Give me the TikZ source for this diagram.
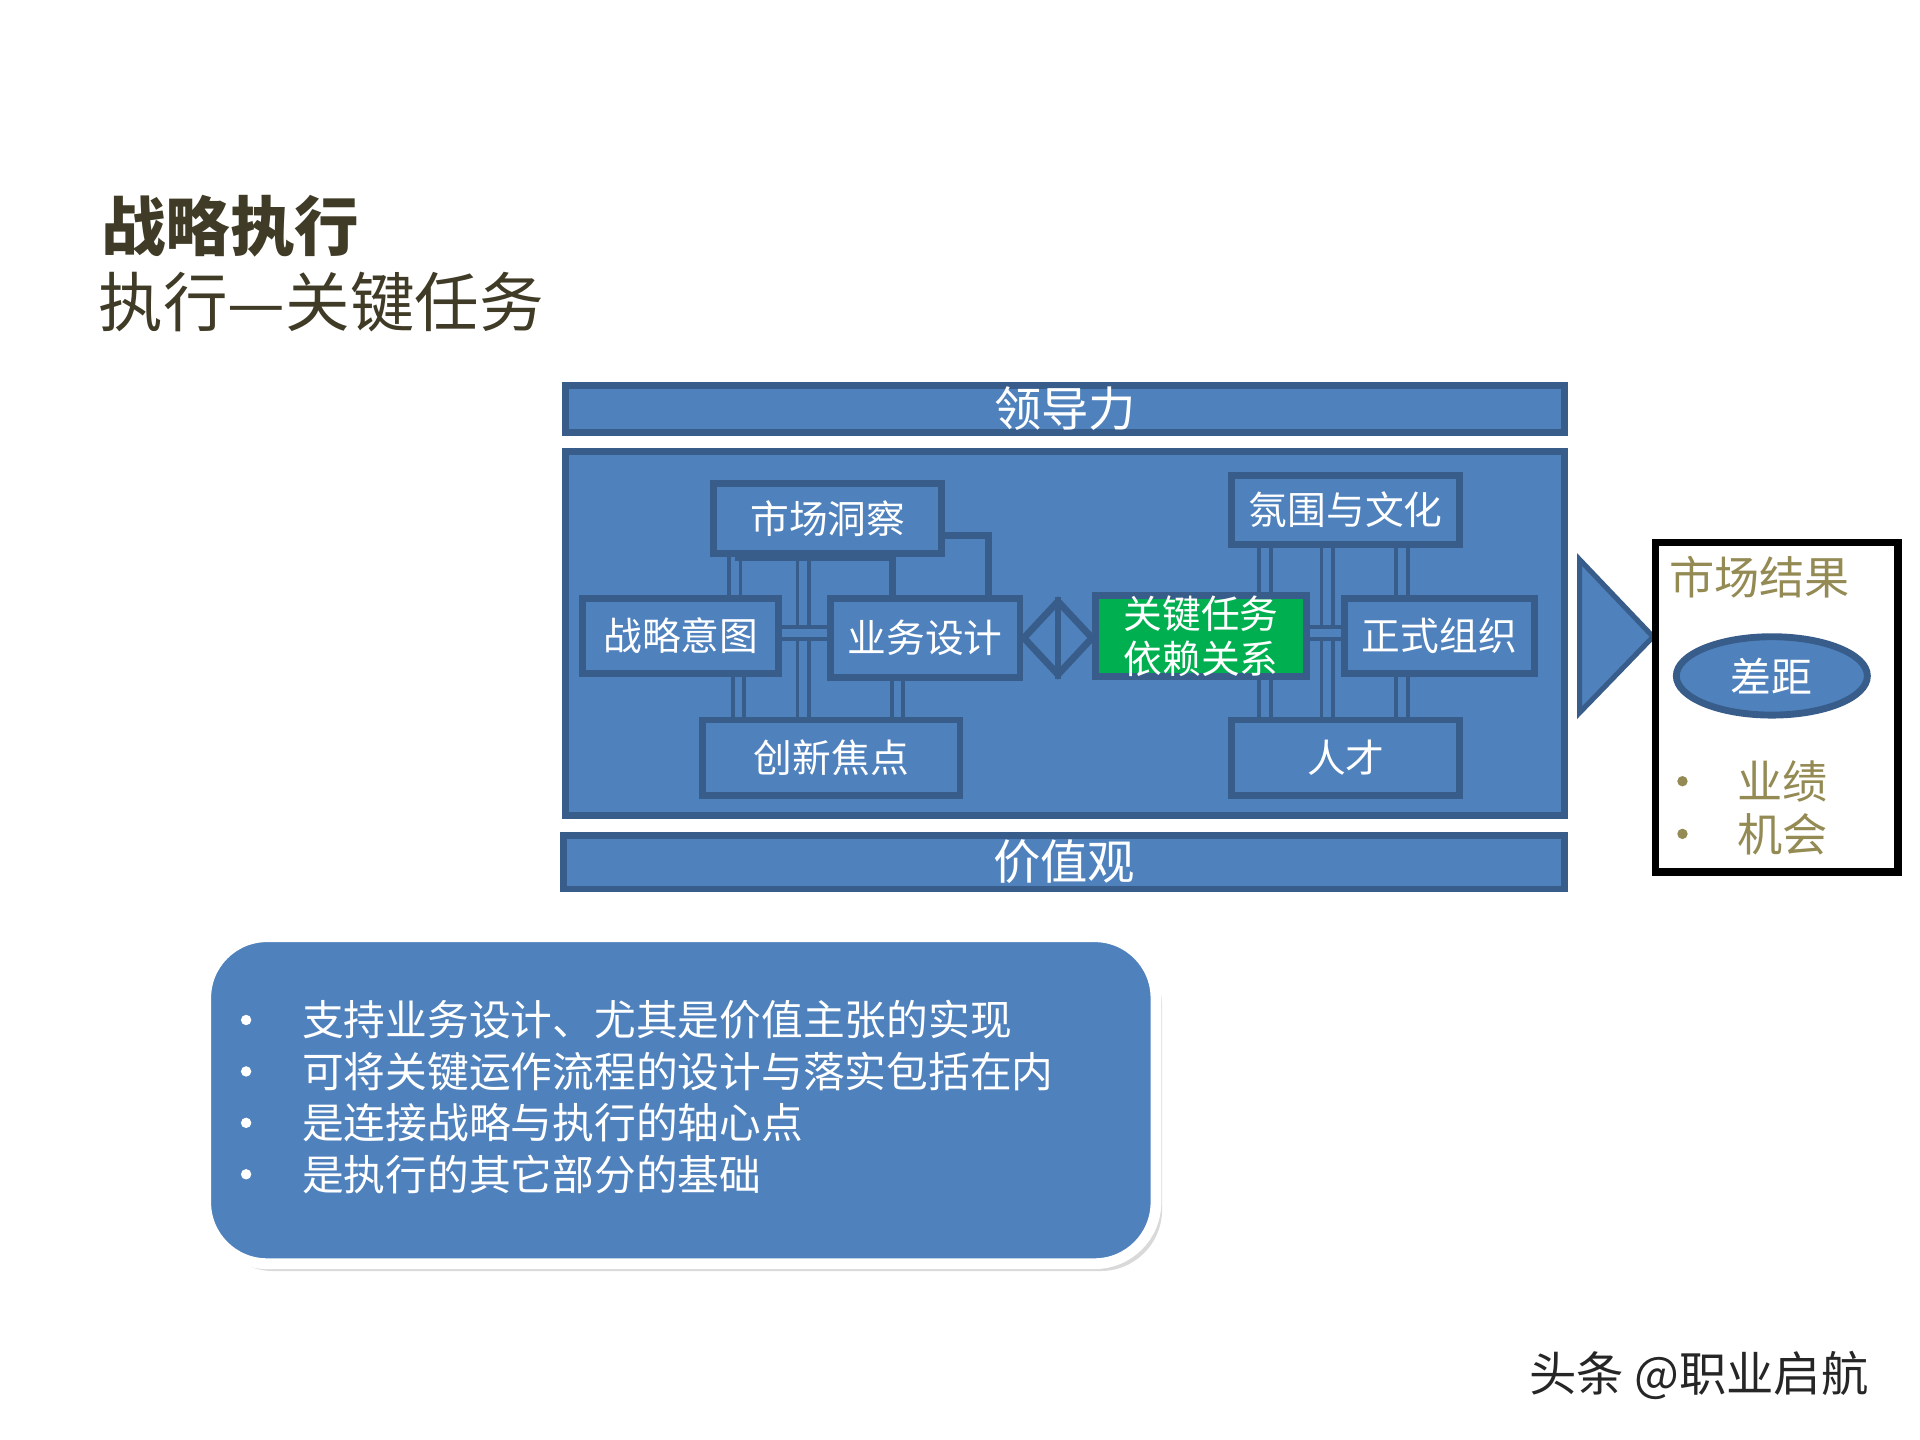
\documentclass[tikz,border=0pt]{standalone}
\usepackage{fontspec}
\setmainfont{Noto Sans CJK SC}
\usetikzlibrary{shapes.geometric,shadows}
\definecolor{bfill}{HTML}{4F81BD}
\definecolor{bline}{HTML}{385D8A}
\definecolor{gfill}{HTML}{00B050}
\definecolor{olive}{HTML}{3F3B26}
\definecolor{gold}{HTML}{948A54}
\newcommand{\fs}[1]{\fontsize{#1}{#1}\selectfont}
\begin{document}
\begin{tikzpicture}[x=1cm,y=1cm,
  bbox/.style={draw=bline,fill=bfill,line width=1.6pt,text=white,inner sep=0pt},
  conn/.style={draw=bline,line width=0.9pt,double=bfill,double distance=1.8pt},
  lbl/.style={font=\fs{9}},
  bul/.style={circle,inner sep=0pt,minimum size=0.085cm}]
\useasboundingbox (0,0) rectangle (15.68,-11.76);
% titles
\node[anchor=west,text=olive,font=\fs{15}\bfseries,inner sep=0pt] (t1) at (0.82,-1.85) {战略执行};
\node[anchor=west,text=olive,font=\fs{15},inner sep=0pt] (t2) at (0.80,-2.47) {执行—关键任务};
% bars
\node[bbox,minimum width=8.16cm,minimum height=0.38cm,font=\fs{11}] (ld) at (8.70,-3.34) {领导力};
\node[bbox,minimum width=8.18cm,minimum height=0.44cm,font=\fs{11}] (jz) at (8.69,-7.04) {价值观};
\node[bbox,minimum width=8.16cm,minimum height=2.97cm] (main) at (8.70,-5.175) {};
% connectors (left)
\draw[conn] (6.00,-4.89) -- (6.00,-4.50);
\draw[bline,line width=1.2pt] (5.98,-4.50) -- (6.12,-4.38);
\draw[conn] (6.56,-4.52) -- (6.56,-5.88);
\draw[conn] (6.0,-4.52) -- (7.33,-4.52) -- (7.33,-4.89);
\draw[bbox] (7.29,-4.89) rectangle (8.07,-4.37);
\draw[conn] (6.03,-5.50) -- (6.03,-5.88);
\draw[conn] (7.33,-5.53) -- (7.33,-5.88);
\draw[conn] (6.36,-5.17) -- (6.78,-5.17);
% connectors (right)
\draw[conn] (10.33,-4.45) -- (10.33,-5.88);
\draw[conn] (10.84,-4.45) -- (10.84,-5.88);
\draw[conn] (11.45,-4.45) -- (11.45,-5.88);
\draw[conn] (10.67,-5.17) -- (10.98,-5.17);
% boxes
\node[bbox,minimum width=1.86cm,minimum height=0.57cm,lbl] (sc) at (6.76,-4.235) {\raisebox{-2pt}{市场洞察}};
\node[bbox,minimum width=1.60cm,minimum height=0.61cm,lbl] (zl) at (5.56,-5.195) {战略意图};
\node[bbox,minimum width=1.55cm,minimum height=0.64cm,lbl] (yw) at (7.555,-5.21) {业务设计};
\node[bbox,minimum width=2.10cm,minimum height=0.62cm,lbl] (cx) at (6.79,-6.19) {创新焦点};
\node[bbox,minimum width=1.86cm,minimum height=0.57cm,lbl] (fw) at (10.99,-4.165) {氛围与文化};
\node[bbox,fill=gfill,minimum width=1.72cm,minimum height=0.61cm,align=center,font=\fontsize{9}{10.5}\selectfont] (gj) at (9.81,-5.195) {关键任务\\依赖关系};
\node[bbox,minimum width=1.55cm,minimum height=0.61cm,lbl] (zs) at (11.755,-5.195) {正式组织};
\node[bbox,minimum width=1.86cm,minimum height=0.62cm,lbl] (rc) at (10.99,-6.19) {人才};
\node[diamond,draw=bline,line width=1.6pt,fill=bfill,minimum width=0.58cm,minimum height=0.62cm,inner sep=0pt] (dm) at (8.64,-5.21) {};
\draw[bline,line width=1.6pt] (dm.north) -- (dm.south);
% big arrow
\coordinate (atip) at (13.50,-5.20);
\draw[bline,line width=1.2pt,fill=bfill] (12.90,-4.57) -- (atip) -- (12.90,-5.82) -- cycle;
% result box
\draw[black,line width=1.8pt] (13.52,-4.43) rectangle (15.50,-7.12);
\node[text=gold,font=\fs{10.5}] (scjg) at (14.37,-4.71) {市场结果};
\node[ellipse,draw=bline,line width=1.6pt,fill=bfill,minimum width=1.56cm,minimum height=0.64cm,text=white,font=\fs{9.5},inner sep=0pt] (cj) at (14.47,-5.52) {差距};
\node[bul,fill=gold] (b1) at (13.74,-6.38) {};
\node[bul,fill=gold] (b2) at (13.74,-6.81) {};
\node[anchor=west,text=gold,font=\fs{10.5},inner sep=0pt] (yj) at (14.18,-6.38) {业绩};
\node[anchor=west,text=gold,font=\fs{10.5},inner sep=0pt] (jh) at (14.18,-6.81) {机会};
% rounded box
\draw[white,line width=2.5pt,fill=bfill,rounded corners=0.5cm,drop shadow={opacity=0.3,shadow xshift=0.05cm,shadow yshift=-0.06cm}] (1.68,-7.65) rectangle (9.44,-10.32);
\foreach \y/\t in {8.33/支持业务设计、尤其是价值主张的实现,8.75/可将关键运作流程的设计与落实包括在内,9.17/是连接战略与执行的轴心点,9.59/是执行的其它部分的基础}{
  \node[bul,fill=white] at (2.01,-\y) {};
  \node[anchor=west,text=white,font=\fs{9.7},inner sep=0pt] at (2.46,-\y) {\t};
}
% watermark
\node[anchor=west,text=black!85,font=\fs{11},inner sep=0pt] (wm) at (12.48,-11.23) {头条 @职业启航};
\end{tikzpicture}
\end{document}
